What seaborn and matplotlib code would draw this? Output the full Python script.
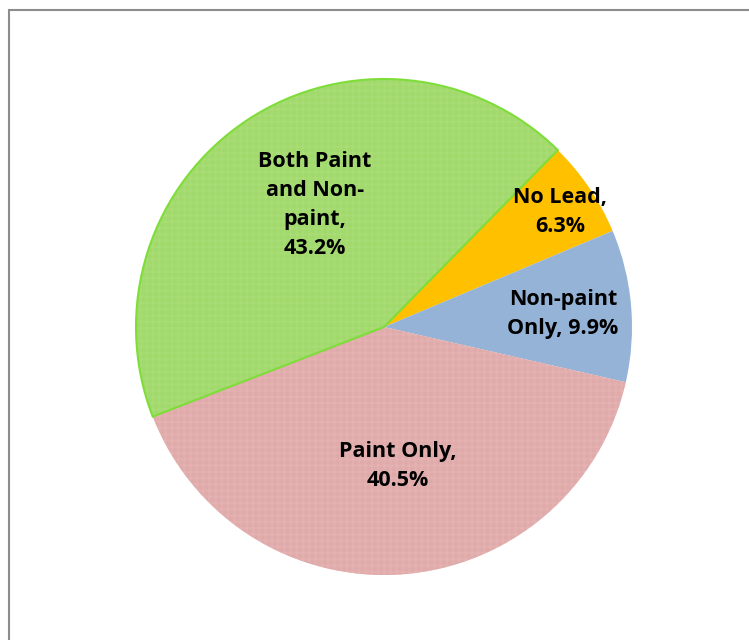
import matplotlib

matplotlib.use("Agg")
import matplotlib.pyplot as plt
from matplotlib.patches import Rectangle, Wedge
import seaborn as sns

sns.set_style("white")
plt.rcParams["font.family"] = ["Open Sans", "DejaVu Sans"]
plt.rcParams["hatch.linewidth"] = 0.3

# slices, clockwise from the top-right
categories = ["No Lead", "Non-paint Only", "Paint Only", "Both Paint and Non-paint"]
shares = [6.3, 9.9, 40.5, 43.2]
label_texts = ["No Lead,\n6.3%", "Non-paint\nOnly, 9.9%", "Paint Only,\n40.5%",
               "Both Paint\nand Non-\npaint,\n43.2%"]

colors = ["#FFC000", "#95B3D7", "#EDBFBF", "#B4E384"]
hatch_colors = [None, None, "#DDA6A6", "#9ED868"]
label_pos = [(0.71, 0.464), (0.722, 0.052), (0.056, -0.56), (-0.278, 0.492)]

fig = plt.figure(figsize=(7.49, 6.4), dpi=100)
ax = fig.add_axes([136 / 749, 65 / 640, 496 / 749, 496 / 640])

wedges, _ = ax.pie(shares, colors=colors, startangle=45.5, counterclock=False,
                   radius=1.0, wedgeprops=dict(linewidth=0))
for w, hc in zip(wedges, hatch_colors):
    if hc:
        w.set_hatch("+" * 14)
        w.set_edgecolor(hc)
        w.set_linewidth(0)

# bright outline on the green slice (separate patch so the hatch keeps its colour)
g = wedges[3]
ax.add_patch(Wedge(g.center, g.r, g.theta1, g.theta2, fill=False,
                   edgecolor="#7FDD3A", linewidth=1.5, clip_on=False))

for txt, (x, y) in zip(label_texts, label_pos):
    ax.text(x, y, txt, ha="center", va="center", fontsize=15.5,
            fontweight="bold", color="black", linespacing=1.5)

ax.set_xlim(-1, 1)
ax.set_ylim(-1, 1)
ax.set_aspect("auto")
ax.axis("off")

fig.patches.append(Rectangle((9 / 749, -0.05), 1.2, 1 - 10 / 640 + 0.05,
                             transform=fig.transFigure, fill=False,
                             edgecolor="#8C8C8C", linewidth=1.5))

fig.savefig("out.png", dpi=100)
